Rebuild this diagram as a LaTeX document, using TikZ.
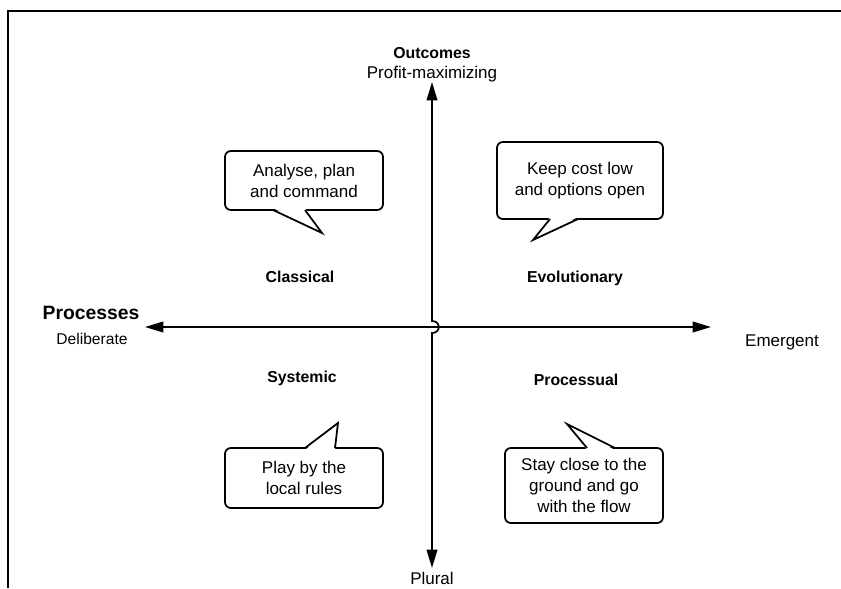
\documentclass[tikz,border=0pt]{standalone}
\usepackage{fontspec}
\setmainfont{Liberation Sans}
\usepackage{tikz}
\usetikzlibrary{positioning}
\usetikzlibrary{arrows.meta}
\tikzset{%
  bubble/.style = {draw, line width=1.5pt, rectangle, rounded corners=5pt,
    fill=white, align=center, inner sep=0pt,
    font=\fontsize{14.5}{18}\selectfont}, % callout box
  tail/.style   = {line width=1.5pt, line join=miter}, % callout pointer
  quad/.style   = {font=\fontsize{13.5}{16}\selectfont\bfseries}, % school name
  pole/.style   = {font=\fontsize{14.5}{17}\selectfont}, % end of an axis
  axis/.style   = {line width=1.5pt}
}

\begin{document}
\begin{tikzpicture}[x=0.03cm, y=-0.03cm, >={Triangle[length=5.5mm,width=3.2mm]}]

  \useasboundingbox (0,0) rectangle (841,588);
  \draw[line width=1.7pt] (8,588) -- (8,11) -- (841,11);

  % axes
  \coordinate (north) at (432,82);
  \coordinate (south) at (432,568);
  \coordinate (west) at (145,327);
  \coordinate (east) at (711,327);
  \coordinate (hopn) at (432,321);
  \coordinate (hops) at (432,333);

  \draw[axis, <->] (west) -- (east);
  \draw[axis, <->] (north) -- (hopn) .. controls (441,321) and (441,333) .. (hops) -- (south);

  \draw node at (432,53) [quad] (outcomes) {Outcomes};
  \draw node at (432,74) [pole] (profit) {Profit-maximizing};
  \draw node at (91,313) [font=\fontsize{16.5}{18}\selectfont\bfseries] (processes) {Processes};
  \draw node at (92,339) [font=\fontsize{13.3}{16}\selectfont] (deliberate) {Deliberate};
  \draw node at (782,342) [pole] (emergent) {Emergent};
  \draw node at (432,578) [pole] (plural) {Plural};

  % schools
  \draw node at (300,277) [quad] (classical) {Classical};
  \draw node at (575,278) [quad] (evolutionary) {Evolutionary};
  \draw node at (302,378) [quad] (systemic) {Systemic};
  \draw node at (576,380) [quad] (processual) {Processual};

  % callouts
  \draw node at (304,180.5) [bubble, minimum width=4.74cm, minimum height=1.77cm] (plan)
    {Analyse, plan\\and command};
  \coordinate (plantip) at (322,233);
  \fill[white] (273,208) -- (plantip) -- (305,208) -- cycle;
  \draw[tail] (273,210) -- (plantip) -- (305,210);

  \draw node at (580,180.5) [bubble, minimum width=4.98cm, minimum height=2.31cm] (cost)
    {Keep cost low\\and options open};
  \coordinate (costtip) at (533,240);
  \fill[white] (550,217) -- (costtip) -- (578,217) -- cycle;
  \draw[tail] (550,219) -- (costtip) -- (578,219);

  \draw node at (304,478) [bubble, minimum width=4.74cm, minimum height=1.8cm] (rules)
    {Play by the\\local rules};
  \coordinate (rulestip) at (338,423);
  \fill[white] (305,450) -- (rulestip) -- (335,450) -- cycle;
  \draw[tail] (305,448) -- (rulestip) -- (335,448);

  \draw node at (584,485.5) [bubble, minimum width=4.74cm, minimum height=2.25cm] (flow)
    {Stay close to the\\ground and go\\with the flow};
  \coordinate (flowtip) at (567,424);
  \fill[white] (587,450) -- (flowtip) -- (615,450) -- cycle;
  \draw[tail] (587,448) -- (flowtip) -- (615,448);

\end{tikzpicture}
\end{document}
